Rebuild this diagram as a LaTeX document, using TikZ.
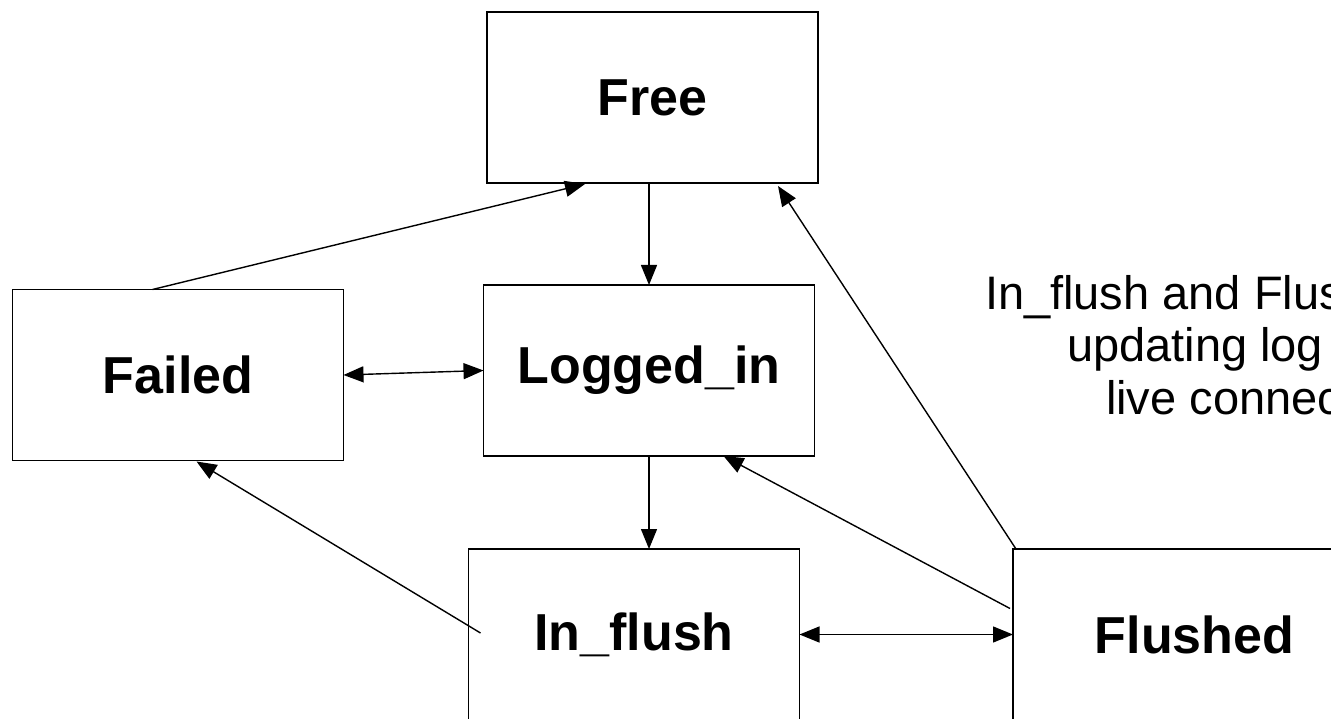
\documentclass[tikz,border=0pt]{standalone}
\usepackage{fontspec}
\setmainfont{Liberation Sans}
\usetikzlibrary{arrows.meta,calc}

\tikzset{
  statebox/.style={draw=black, line width=1.8pt, fill=white, rectangle,
    inner sep=0pt, outer sep=0pt, minimum width=331pt, minimum height=171pt,
    font=\fontsize{52}{62}\selectfont\bfseries},
  link/.style={draw=black, line width=1.4pt,
    -{Triangle[length=20pt,width=16pt]}},
  bilink/.style={draw=black, line width=1.4pt,
    {Triangle[length=20pt,width=16pt]}-{Triangle[length=20pt,width=16pt]}},
  note/.style={inner sep=0pt, outer sep=0pt, anchor=base west,
    font=\fontsize{47}{54}\selectfont}
}

\begin{document}
\begin{tikzpicture}[x=1pt, y=-1pt]
  \useasboundingbox (0,0) rectangle (1331,719);
  \fill[white] (0,0) rectangle (1331,719);
  \clip (0,0) rectangle (1331,719);

  % states
  \node[statebox] (free)    at (652.5, 97.5) {Free};
  \node[statebox] (logged)  at (649, 370.5)  {Logged\_in};
  \node[statebox] (failed)  at (178, 375)    {Failed};
  \node[statebox] (inflush) at (634, 634.5)  {In\_flush};
  \node[statebox, minimum width=363pt] (flushed) at (1194.5, 634.5) {Flushed};

  % side note, running past the right edge
  \node[note] (noteA) at (985, 310)  {In\_flush and Flushed are};
  \node[note] (noteB) at (1067, 362) {updating log of};
  \node[note] (noteC) at (1106, 414) {live connections};

  % transitions
  \draw[link] (free.south -| logged.north) -- (logged.north);
  \draw[link] (logged.south) -- (logged.south |- inflush.north);
  \draw[bilink] (failed.east) -- (logged.west);
  \draw[bilink] (inflush.east) -- (flushed.west |- inflush.east);
  \draw[link] ($(failed.north west)+(140,0)$) -- ($(free.south west)+(98,1)$);
  \draw[link] ($(inflush.west)+(12,-1.5)$) -- ($(failed.south west)+(184,1)$);
  \draw[link] ($(flushed.north west)+(3,0)$) -- ($(free.south east)+(-40,3)$);
  \draw[link] ($(flushed.west)+(-3,-26)$) -- ($(logged.south east)+(-91,0)$);
\end{tikzpicture}
\end{document}
